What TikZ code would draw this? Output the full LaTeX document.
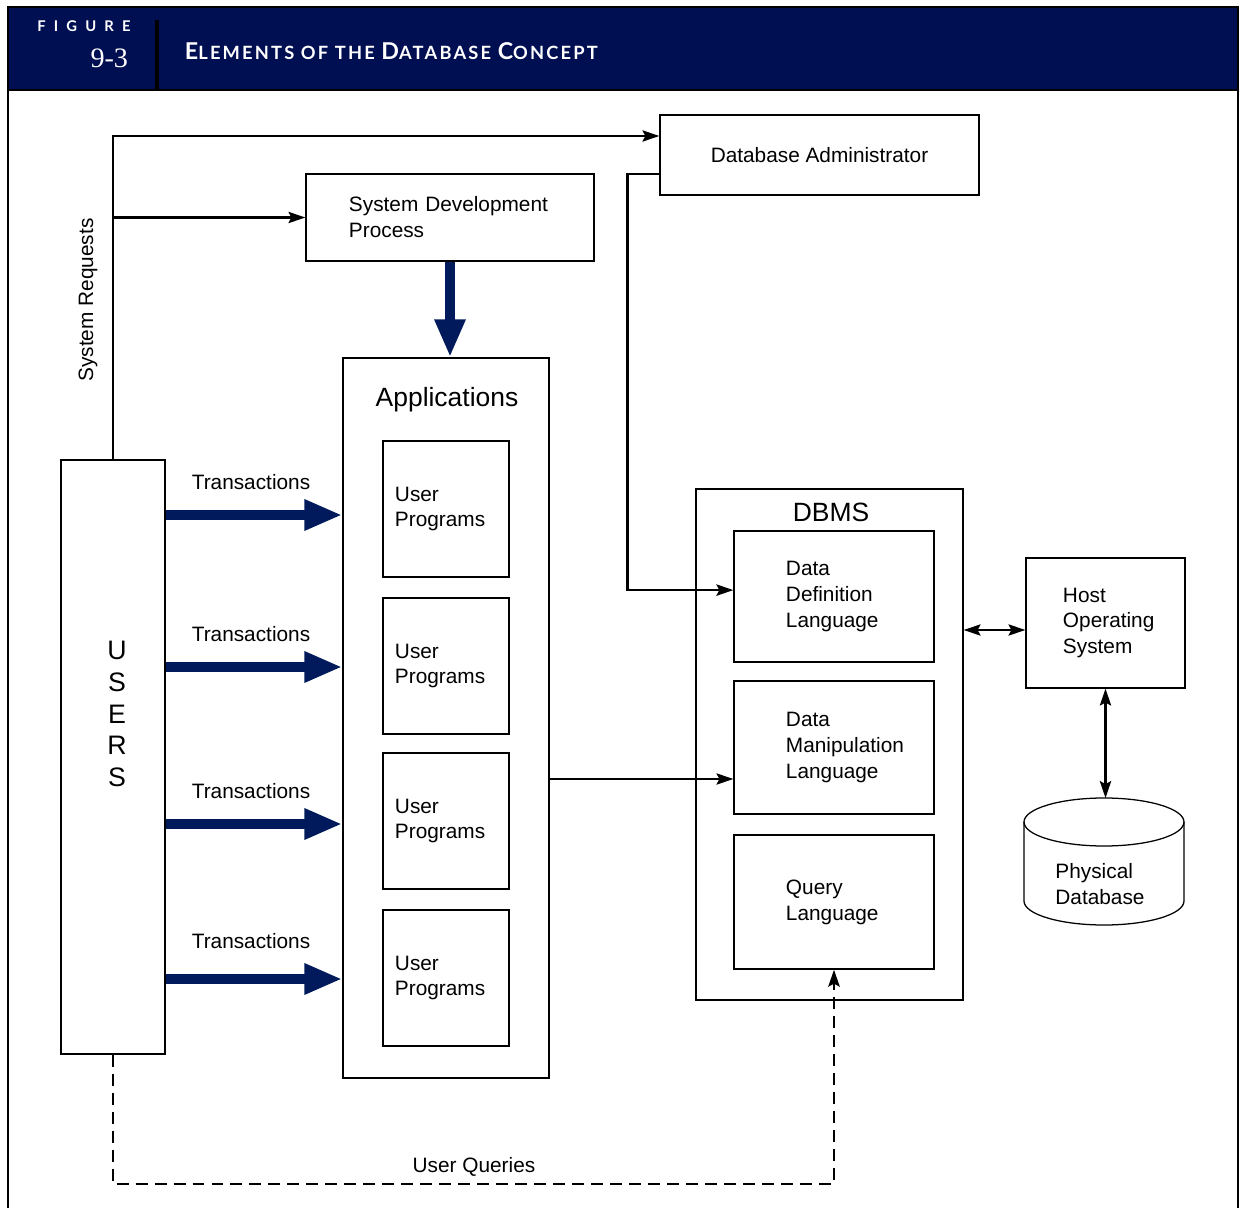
\documentclass[tikz,border=0pt]{standalone}
\usepackage{fontspec}
\setmainfont{Liberation Sans}
\newfontfamily\headfont[LetterSpace=12]{Lato}
\newfontfamily\figfont[LetterSpace=55]{Lato}
\newfontfamily\numfont{Liberation Serif}
\usepackage{xcolor}
\usepackage{tikz}
\usetikzlibrary{arrows.meta,calc,positioning}

\definecolor{headblue}{HTML}{000E52}
\definecolor{flowblue}{HTML}{001A5C}

% small caps made by hand for the figure title
\newcommand\capbig[1]{{\fontsize{16.5}{19}\selectfont #1}}
\newcommand\capsmall[1]{{\fontsize{13}{15}\selectfont #1}}

\begin{document}
\begin{tikzpicture}[
  x=0.025cm, y=-0.025cm,
  >={Stealth[length=4.2mm,width=2.8mm,inset=0.7mm]},
  box/.style={
    draw,
    line width=0.9pt,
    inner sep=0pt,
    align=left,
    font=\fontsize{14.8}{18.4}\selectfont
  },
  progbox/.style={box,minimum width=3.15cm,minimum height=3.4cm,inner xsep=0.3cm,text width=2.55cm},
  langbox/.style={box,minimum width=5cm,inner xsep=1.3cm,text width=2.4cm},
  group/.style={
    draw,
    line width=0.9pt,
    inner sep=0pt
  },
  heading/.style={font=\fontsize{18.8}{22}\selectfont},
  caption/.style={font=\fontsize{14.8}{18.4}\selectfont},
  arrow/.style={->,line width=1.6pt},
  twoway/.style={<->,line width=1.6pt},
  bigarrow/.style={draw=flowblue,line width=7pt,-{Triangle[length=9.5mm,width=7.2mm]}},
  query/.style={->,line width=2.1pt,dash pattern=on 8.5pt off 5pt}
]
\useasboundingbox (0,0) rectangle (1239,1208);

% header band
\fill[headblue] (8,7) rectangle (1238,90);
\draw[line width=1pt] (8,1208) -- (8,7) -- (1238,7) -- (1238,1208);
\draw[line width=1.4pt] (8,90) -- (1238,90);
\draw[line width=2.5pt] (157,20) -- (157,90);
\node[text=white,font=\figfont\bfseries\fontsize{10.5}{12}\selectfont] (figword) at (84,26) {FIGURE};
\node[anchor=east,text=white,font=\numfont\fontsize{20}{24}\selectfont] (fignum) at (133,58) {9-3};
\node[anchor=west,text=white,font=\headfont\bfseries] (title) at (180,51)
  {\capbig{E}\capsmall{LEMENTS OF THE }\capbig{D}\capsmall{ATABASE }\capbig{C}\capsmall{ONCEPT}};

% boxes
\node[box,align=center,minimum width=7.975cm,minimum height=2cm] (dba) at (819.5,155) {Database Administrator};
\node[box,minimum width=7.2cm,minimum height=2.175cm,inner xsep=1.075cm,text width=5.05cm] (sdp) at (450,217.5) {System Development\\Process};

\node[group,minimum width=5.15cm,minimum height=18cm] (apps) at (446,718) {};
\node[heading] (appstitle) at (447,400) {Applications};
\foreach \n/\y in {1/509,2/666,3/821,4/978}
  \node[progbox] (prog\n) at (446,\y) {User\\Programs};

\node[group,minimum width=2.6cm,minimum height=14.85cm] (users) at (113,757) {};
\node[align=center,font=\fontsize{19}{22.7}\selectfont] (userstext) at (117,714) {U\\S\\E\\R\\S};

\node[group,minimum width=6.675cm,minimum height=12.775cm] (dbms) at (829.5,744.5) {};
\node[heading] (dbmstitle) at (831,512) {DBMS};
\node[langbox,minimum height=3.275cm] (ddl) at (834,596.5) {Data\\Definition\\Language};
\node[langbox,minimum height=3.325cm] (dml) at (834,747.5) {Data\\Manipulation\\Language};
\node[langbox,minimum height=3.35cm] (ql) at (834,902) {Query\\Language};

\node[box,minimum width=3.975cm,minimum height=3.25cm,inner xsep=0.925cm,text width=2.125cm] (host) at (1105.5,623) {Host\\Operating\\System};

% physical database drum
\draw[line width=0.9pt] (1104,822) ellipse [x radius=80,y radius=24];
\draw[line width=0.9pt] (1024,822) -- (1024,901) arc[start angle=180,end angle=0,x radius=80,y radius=24] -- (1184,822);
\node[caption,align=left] (physdb) at (1100,884) {Physical\\Database};
\coordinate (dbtop) at (1104,798);

% system requests
\draw[arrow] (users.north) |- ([yshift=0.475cm]dba.west);
\draw[arrow] (users.north |- sdp.west) -- (sdp.west);
\node[caption,rotate=90] (sysreq) at (88,300) {System Requests};

\draw[arrow,line width=1.9pt] ([yshift=-0.475cm]dba.west) -- ++(-32,0) |- ([yshift=0.16cm]ddl.west);
\draw[bigarrow] (sdp.south) -- (sdp.south |- apps.north);

% transactions
\foreach \n/\y/\t in {1/515/482,2/667/634,3/824/791,4/979/941}{
  \coordinate (tx\n) at (0,\y);
  \draw[bigarrow] (users.east |- tx\n) -- (apps.west |- tx\n);
  \node[caption] (trans\n) at (251,\t) {Transactions};
}

\coordinate (applink) at (0,779);
\draw[arrow] (apps.east |- applink) -- (dml.west |- applink);
\coordinate (hostlink) at ([yshift=-0.175cm]host.west);
\draw[twoway] (dbms.east |- hostlink) -- (hostlink);
\draw[twoway] (host.south) -- (host.south |- dbtop);

% user queries
\coordinate (qbase) at (0,1184);
\draw[query] (users.south) |- (qbase -| ql.south) -- (ql.south);
\node[caption] (uq) at (474,1167) {User Queries};
\end{tikzpicture}
\end{document}
